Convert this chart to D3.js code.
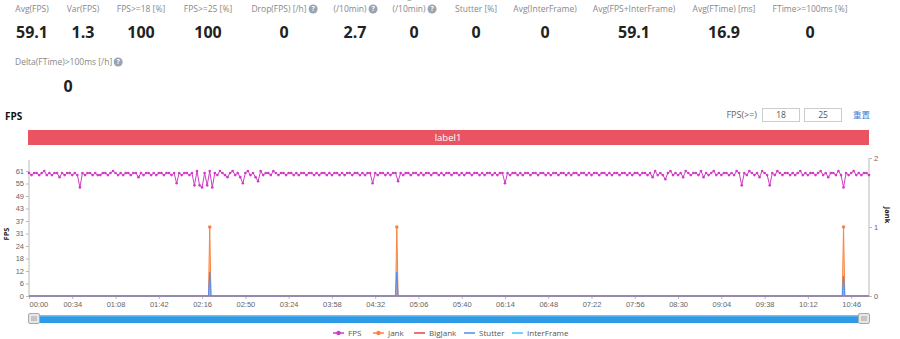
<!DOCTYPE html>
<html>
<head>
<meta charset="utf-8">
<script src="https://cdn.jsdelivr.net/npm/d3@7/dist/d3.min.js"></script>
<style>
  html, body { margin: 0; padding: 0; background: #fff; }
  svg { display: block; font-family: "Open Sans", "Noto Sans", sans-serif; }
</style>
</head>
<body>
<svg id="chart" width="900" height="339"></svg>
<script>
// ---- summary figures ----
const statLabels = ["Avg(FPS)", "Var(FPS)", "FPS>=18 [%]", "FPS>=25 [%]", "Drop(FPS) [/h]", "Jank|(/10min)", "BigJank|(/10min)",
  "Stutter [%]", "Avg(InterFrame)", "Avg(FPS+InterFrame)", "Avg(FTime) [ms]", "FTime>=100ms [%]"];
const statValues = ["59.1", "1.3", "100", "100", "0", "2.7", "0", "0", "0", "59.1", "16.9", "0"];
const statHelp = [false, false, false, false, true, true, true, false, false, false, false, false];
const stat2Labels = ["Delta(FTime)>100ms [/h]"];
const stat2Values = ["0"];

// ---- series (time in seconds) ----
const fpsStep = 2;
const fps = [
  60,59,60,60,59,60,61,59,60,59,60,60,58,60,59,60,60,59,60,59,
  53,60,59,60,60,59,60,59,59,60,60,59,60,61,60,59,60,59,60,60,
  59,60,60,58,60,59,60,60,59,60,59,60,60,59,60,60,59,60,55,60,
  59,60,60,59,60,54,61,54,53,60,54,61,53,60,59,61,60,59,58,60,
  61,59,60,58,55,60,61,59,60,58,56,61,59,60,60,59,61,60,59,60,
  60,59,60,60,59,60,59,60,60,59,60,60,59,60,59,60,60,59,60,59,
  60,60,59,60,59,60,60,59,60,60,59,60,59,60,60,55,60,59,60,60,
  59,60,59,60,60,56,60,59,60,60,59,60,60,59,60,59,60,60,59,60,
  60,59,60,59,60,60,59,60,60,59,60,59,60,60,59,60,60,59,60,59,
  60,60,59,60,59,60,60,55,60,59,60,60,59,60,59,60,60,59,60,60,
  59,60,60,59,60,59,60,60,59,60,60,59,60,59,60,60,59,60,60,59,
  60,59,60,60,59,60,60,59,60,59,60,60,59,60,60,59,60,59,60,60,
  59,60,60,59,60,58,61,59,60,59,57,60,61,59,60,59,60,58,61,60,
  59,60,60,59,61,58,60,59,60,61,59,60,59,60,60,59,60,59,61,60,
  54,60,59,61,60,59,60,58,61,60,59,54,60,59,61,60,59,60,60,59,
  60,59,60,61,59,60,59,60,60,59,60,61,59,60,58,60,60,59,61,59,
  53,60,59,60,61,59,60,59,60,60,59
];
// [second, value] pairs
const jank = [[0,0],[141,0],[142,1],[143,0],[288,0],[289,1],[290,0],[639,0],[640,1],[641,0],[660,0]];
const stutter = [[0,0],[141,0],[142,0.35],[143,0],[288,0],[289,0.35],[290,0],[639,0],[640,0.29],[641,0],[660,0]];
const bigJank = [[0,0],[660,0]];
const interFrame = [[0,0],[660,0]];

const fpsTicks = [0,6.1,12.2,18.3,24.4,30.5,36.6,42.7,48.8,54.9,61];
const jankTicks = [0,1,2];
const timeTicks = d3.range(0, 647, 34);

const legendNames = ["FPS", "Jank", "BigJank", "Stutter", "InterFrame"];
const colors = { FPS: "#d03ac6", Jank: "#f7843f", BigJank: "#e8433f", Stutter: "#4f8ef2", InterFrame: "#3cc8ef" };

const svg = d3.select("#chart");

// ---- summary block ----
const labelSize = 8.5;
const statX = [32, 83, 141, 208, 284, 355, 414, 476, 545, 634, 724, 810];
function helpIcon(cx, cy) {
  svg.append("circle").attr("cx", cx).attr("cy", cy).attr("r", 4.5).attr("fill", "#9aa3b0");
  svg.append("text").attr("x", cx).attr("y", cy).attr("dy", "0.35em").attr("text-anchor", "middle")
    .attr("font-size", 7).attr("font-weight", "bold").attr("fill", "#fff").text("?");
}
statLabels.forEach((lab, i) => {
  const parts = lab.split("|");
  const lines = parts.length === 2 ? [[parts[0], -4], [parts[1], 9]] : [[parts[0], 9]];
  lines.forEach(([t, y], k) => {
    const withIcon = statHelp[i] && k === lines.length - 1;
    const txt = svg.append("text").attr("x", statX[i] - (withIcon ? 5 : 0)).attr("y", y)
      .attr("dy", "0.35em").attr("text-anchor", "middle")
      .attr("font-size", labelSize).attr("fill", "#888").text(t);
    if (withIcon) {
      const w = txt.node().getComputedTextLength();
      helpIcon(statX[i] - 5 + w / 2 + 6.5, y);
    }
  });
  svg.append("text").attr("x", statX[i]).attr("y", 32).attr("dy", "0.35em").attr("text-anchor", "middle")
    .attr("font-size", 16).attr("font-weight", "bold").attr("fill", "#222").text(statValues[i]);
});
stat2Labels.forEach((lab, i) => {
  const txt = svg.append("text").attr("x", 15).attr("y", 62).attr("dy", "0.35em")
    .attr("font-size", labelSize).attr("fill", "#888").text(lab);
  const w = txt.node().getComputedTextLength();
  helpIcon(15 + w + 6, 62);
  svg.append("text").attr("x", 68).attr("y", 86).attr("dy", "0.35em").attr("text-anchor", "middle")
    .attr("font-size", 16).attr("font-weight", "bold").attr("fill", "#222").text(stat2Values[i]);
});

// ---- chart header ----
svg.append("text").attr("x", 5).attr("y", 116).attr("dy", "0.35em")
  .attr("font-size", 10).attr("font-weight", "bold").attr("fill", "#111").text("FPS");
svg.append("text").attr("x", 757).attr("y", 115).attr("dy", "0.35em").attr("text-anchor", "end")
  .attr("font-size", 9).attr("fill", "#666").text("FPS(>=)");
[[762, "18"], [804, "25"]].forEach(([bx, v]) => {
  svg.append("rect").attr("x", bx + 0.5).attr("y", 108.5).attr("width", 37).attr("height", 13)
    .attr("fill", "#fff").attr("stroke", "#ccc");
  svg.append("text").attr("x", bx + 19).attr("y", 115).attr("dy", "0.35em").attr("text-anchor", "middle")
    .attr("font-size", 8.5).attr("fill", "#555").text(v);
});
svg.append("text").attr("x", 853).attr("y", 115).attr("dy", "0.35em")
  .attr("font-family", "Noto Sans CJK SC").attr("font-size", 8.5).attr("fill", "#3a7fd6").text("重置");

// label band
svg.append("rect").attr("x", 28).attr("y", 130).attr("width", 841).attr("height", 15).attr("fill", "#ea5361");
svg.append("text").attr("x", 448).attr("y", 137.5).attr("dy", "0.35em").attr("text-anchor", "middle")
  .attr("font-size", 9.5).attr("fill", "#fff").text("label1");

// ---- plot area ----
const pLeft = 29, pRight = 869, pTop = 158, pBottom = 296;
const x = d3.scaleLinear().domain([0, 660]).range([pLeft, pRight]);
const yL = d3.scaleLinear().domain([0, 61 * (pBottom - pTop) / 125]).range([pBottom, pTop]);
const yR = d3.scaleLinear().domain([0, 2]).range([pBottom, pTop]);

const axisColor = "#bbb", tickText = "#666";

// left axis
const gL = svg.append("g").attr("transform", `translate(${pLeft},0)`)
  .call(d3.axisLeft(yL).tickValues(fpsTicks).tickSize(3).tickFormat(d => Math.round(d)));
gL.select(".domain").attr("stroke", axisColor).attr("d", `M0,${pTop + 2}V${pBottom}`);
gL.selectAll(".tick line").attr("stroke", axisColor);
gL.selectAll(".tick text").attr("fill", tickText).attr("font-size", 7.5).attr("x", -5);
svg.append("text").attr("transform", `translate(6,234) rotate(-90)`).attr("text-anchor", "middle")
  .attr("dy", "0.35em").attr("font-size", 7.5).attr("font-weight", "bold").attr("fill", "#222").text("FPS");

// right axis
const gR = svg.append("g").attr("transform", `translate(${pRight},0)`)
  .call(d3.axisRight(yR).tickValues(jankTicks).tickSize(3).tickFormat(d3.format("d")));
gR.select(".domain").attr("stroke", axisColor).attr("d", `M0,${pTop}V${pBottom}`);
gR.selectAll(".tick line").attr("stroke", axisColor);
gR.selectAll(".tick text").attr("fill", tickText).attr("font-size", 7.5).attr("x", 5);
svg.append("text").attr("transform", `translate(888,215) rotate(90)`).attr("text-anchor", "middle")
  .attr("dy", "0.35em").attr("font-size", 7.5).attr("font-weight", "bold").attr("fill", "#222").text("Jank");

// time axis
const fmt = s => String(Math.floor(s / 60)).padStart(2, "0") + ":" + String(s % 60).padStart(2, "0");
const gX = svg.append("g").attr("transform", `translate(0,${pBottom})`)
  .call(d3.axisBottom(x).tickValues(timeTicks).tickSize(3).tickFormat(fmt));
gX.select(".domain").attr("stroke", axisColor).attr("d", `M${pLeft},0H${pRight}`);
gX.selectAll(".tick line").attr("stroke", axisColor);
gX.selectAll(".tick text").attr("fill", tickText).attr("font-size", 7.5).attr("y", 6);
gX.selectAll(".tick text").filter(d => d === 0).attr("text-anchor", "start");

// spike series (area + line)
function spikeSeries(data, color, marker) {
  const area = d3.area().x(d => x(d[0])).y0(yR(0)).y1(d => yR(d[1]));
  const line = d3.line().x(d => x(d[0])).y(d => yR(d[1]));
  svg.append("path").datum(data).attr("d", area).attr("fill", color).attr("fill-opacity", 0.45);
  svg.append("path").datum(data).attr("d", line).attr("fill", "none").attr("stroke", color).attr("stroke-width", 1);
  if (marker) {
    svg.append("g").selectAll("circle").data(data.filter(d => d[1] > 0)).join("circle")
      .attr("cx", d => x(d[0])).attr("cy", d => yR(d[1])).attr("r", 1.8).attr("fill", color);
  }
}
spikeSeries(interFrame, colors.InterFrame, false);
spikeSeries(bigJank, colors.BigJank, false);
spikeSeries(jank, colors.Jank, true);
spikeSeries(stutter, colors.Stutter, false);

// FPS line with markers
const fpsLine = d3.line().x((d, i) => x(i * fpsStep)).y(d => yL(d));
svg.append("path").datum(fps).attr("d", fpsLine).attr("fill", "none")
  .attr("stroke", colors.FPS).attr("stroke-width", 1);
svg.append("g").selectAll("circle").data(fps).join("circle")
  .attr("cx", (d, i) => x(i * fpsStep)).attr("cy", d => yL(d)).attr("r", 1.3).attr("fill", colors.FPS);

// ---- zoom slider ----
svg.append("rect").attr("x", 31).attr("y", 315).attr("width", 836).attr("height", 8).attr("fill", "#2e9be6");
svg.append("rect").attr("x", 31).attr("y", 315).attr("width", 836).attr("height", 1.5).attr("fill", "#74c0f0");
[28, 858].forEach(hx => {
  svg.append("rect").attr("x", hx + 0.5).attr("y", 313.5).attr("width", 11).attr("height", 10).attr("rx", 1.5)
    .attr("fill", "#e6e6e6").attr("stroke", "#aaa");
  [-2, 0, 2].forEach(o => svg.append("line").attr("x1", hx + 6 + o).attr("x2", hx + 6 + o)
    .attr("y1", 316).attr("y2", 321).attr("stroke", "#888").attr("stroke-width", 0.7));
});

// ---- legend ----
const legendX = [333, 373, 414, 464, 512];
legendNames.forEach((n, i) => {
  const g = svg.append("g").attr("transform", `translate(${legendX[i]},333)`);
  g.append("line").attr("x1", 0).attr("x2", 11).attr("stroke", colors[n]).attr("stroke-width", 1.5);
  if (n === "FPS" || n === "Jank") g.append("circle").attr("cx", 5.5).attr("r", 2.2).attr("fill", colors[n]);
  g.append("text").attr("x", 15).attr("dy", "0.35em").attr("font-size", 8).attr("fill", "#555").text(n);
});
</script>
</body>
</html>
